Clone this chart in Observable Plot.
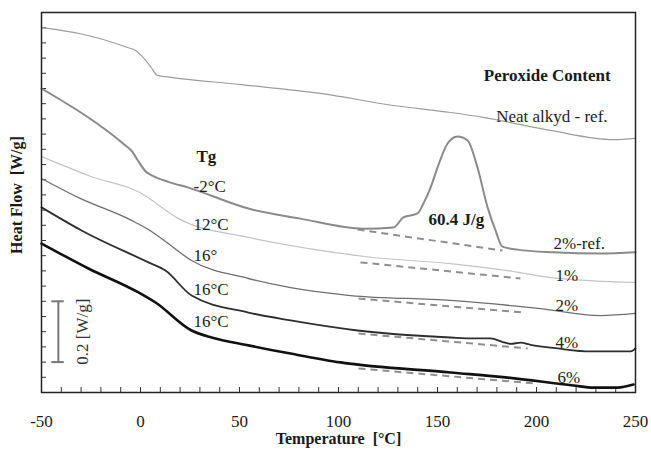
<!DOCTYPE html>
<html>
<head>
<meta charset="utf-8">
<script src="https://cdn.jsdelivr.net/npm/d3@7"></script>
<script src="https://cdn.jsdelivr.net/npm/@observablehq/plot@0.6"></script>
<style>
  html, body { margin: 0; padding: 0; background: #fff; }
  #chart svg { display: block; }
  #chart svg text { font-family: "Liberation Serif", "Times New Roman", serif; }
</style>
</head>
<body>
<div id="chart"></div>
<script>
// ---- data (Temperature °C, Heat Flow W/g, arbitrary offset) ----
const neatRef = [[-50,1.20],[-30.3,1.18],[-6.6,1.135],[-2.5,1.125],[1.0,1.105],[5.1,1.072],[8.6,1.043],[12.6,1.039],[50.5,1.013],[90.9,0.984],[127.8,0.944],[156.6,0.921],[173.2,0.905],[207.1,0.862],[238.9,0.832],[250,0.836]];
const ref2 = [[-50,1.00],[-7.6,0.8125],[-4.5,0.795],[-1.5,0.765],[2.5,0.728],[7,0.710],[14,0.693],[24.2,0.674],[54.5,0.605],[80.8,0.572],[112.6,0.539],[127.8,0.543],[132.8,0.576],[139.9,0.589],[142.9,0.622],[146.5,0.674],[150.0,0.740],[155.1,0.819],[160.1,0.842],[165.2,0.829],[170.2,0.740],[175.3,0.609],[179.3,0.533],[182.8,0.480],[190.4,0.470],[208.6,0.461],[232.3,0.457],[250,0.461]];
const p1 = [[-50,0.776],[-26.3,0.714],[4.0,0.641],[10.6,0.609],[19.2,0.572],[54.5,0.510],[84.3,0.474],[117.7,0.444],[156.6,0.424],[185.4,0.401],[207.1,0.378],[250,0.362]];
const p2 = [[-50,0.704],[-31.3,0.641],[-4.5,0.566],[4.0,0.536],[12.6,0.497],[25.8,0.434],[54.5,0.375],[75.8,0.345],[106.1,0.319],[156.6,0.303],[202.0,0.276],[232.3,0.253],[250,0.260]];
const p4 = [[-50,0.609],[-29.8,0.533],[4.0,0.428],[12.6,0.401],[25.8,0.319],[54.5,0.263],[75.8,0.237],[109.6,0.204],[156.6,0.181],[168.2,0.178],[176.8,0.178],[183,0.166],[187,0.160],[192,0.164],[197.0,0.157],[210.6,0.145],[227.3,0.135],[247.5,0.135],[250,0.145]];
const p6 = [[-50,0.490],[-26.3,0.408],[-1.0,0.329],[7.6,0.296],[25.8,0.204],[35.9,0.181],[54.5,0.155],[75.8,0.128],[101.0,0.099],[156.6,0.066],[185.4,0.049],[218.7,0.023],[228.8,0.016],[240.9,0.016],[249,0.026]];

// dashed baselines under each curve
const baselines = [
  {x1:109.6, y1:0.536, x2:182.8, y2:0.467},
  {x1:111.1, y1:0.428, x2:191.9, y2:0.375},
  {x1:110.1, y1:0.309, x2:193.4, y2:0.263},
  {x1:110.1, y1:0.194, x2:195.5, y2:0.145},
  {x1:110.1, y1:0.079, x2:198.5, y2:0.030}
];

// labels
const contentLabels = [
  {t:"2%-ref.", x:208.6, y:0.490},
  {t:"1%", x:209.6, y:0.385},
  {t:"2%", x:209.6, y:0.286},
  {t:"4%", x:209.6, y:0.164},
  {t:"6%", x:210.6, y:0.049}
];
const tgLabels = [
  {t:"-2°C", x:26.8, y:0.678},
  {t:"12°C", x:26.8, y:0.553},
  {t:"16°", x:26.8, y:0.451},
  {t:"16°C", x:26.8, y:0.339},
  {t:"16°C", x:26.8, y:0.234}
];
const titleLabel = {t:"Peroxide Content", x:237.4, y:1.043};
const tgTitle = {t:"Tg", x:33.3, y:0.776};
const enthalpyLabel = {t:"60.4 J/g", x:145.5, y:0.569};
const neatLabel = {t:"Neat alkyd - ref.", x:235.9, y:0.908};

const xTicks = [-50, 0, 50, 100, 150, 200, 250];
const xMinorTicks = d3.range(-50, 251, 10);
const yTicks = d3.range(0, 1.21, 0.05);
const scaleBar = {x: -41.5, y1: 0.1, y2: 0.3, capX1: -44.8, capX2: -38.5, labelX: -29.3, labelY: 0.2, text: "0.2 [W/g]"};

const serif = "Liberation Serif, Times New Roman, serif";
const X = d => d[0], Y = d => d[1];
const series = (data, stroke, w) => Plot.line(data, {x: X, y: Y, stroke, strokeWidth: w, curve: "monotone-x"});
const txt = {fontFamily: serif, fontSize: 17, fill: "#222"};

const chart = Plot.plot({
  width: 651,
  height: 453,
  marginLeft: 41,
  marginRight: 16,
  marginTop: 12,
  marginBottom: 61,
  style: {fontFamily: serif, fontSize: "16px", color: "#1a1a1a", background: "#fff"},
  x: {domain: [-50, 250]},
  y: {domain: [0, 1.25], axis: null},
  marks: [
    Plot.tickX(xMinorTicks, {insetTop: 375, stroke: "#333", strokeWidth: 1}),
    Plot.tickY(yTicks, {insetRight: 589, stroke: "#333", strokeWidth: 1}),
    Plot.axisX(xTicks, {tickSize: 0, tickPadding: 22, fontSize: 17, fontFamily: serif, tickFormat: d => String(d), label: null}),
    Plot.link(baselines, {x1: "x1", y1: "y1", x2: "x2", y2: "y2", stroke: "#8f8f8f", strokeWidth: 2, strokeDasharray: "7,5"}),
    series(neatRef, "#9c9c9c", 1.2),
    series(ref2, "#8a8a8a", 2),
    series(p1, "#c4c4c4", 1.2),
    series(p2, "#6e6e6e", 1.3),
    series(p4, "#2e2e2e", 1.8),
    series(p6, "#111111", 2.6),
    Plot.ruleX([scaleBar], {x: "x", y1: "y1", y2: "y2", stroke: "#777", strokeWidth: 2}),
    Plot.ruleY([scaleBar.y1, scaleBar.y2], {x1: scaleBar.capX1, x2: scaleBar.capX2, stroke: "#777", strokeWidth: 2}),
    Plot.text([scaleBar], {x: "labelX", y: "labelY", text: "text", rotate: -90, ...txt, fill: "#333"}),
    Plot.text(contentLabels, {x: "x", y: "y", text: "t", textAnchor: "start", ...txt}),
    Plot.text(tgLabels, {x: "x", y: "y", text: "t", textAnchor: "start", ...txt}),
    Plot.text([titleLabel], {x: "x", y: "y", text: "t", textAnchor: "end", ...txt, fontWeight: "bold", fill: "#1a1a1a"}),
    Plot.text([tgTitle], {x: "x", y: "y", text: "t", textAnchor: "middle", ...txt, fontWeight: "bold", fill: "#1a1a1a"}),
    Plot.text([enthalpyLabel], {x: "x", y: "y", text: "t", textAnchor: "start", ...txt, fontWeight: "bold", fill: "#1a1a1a"}),
    Plot.text([neatLabel], {x: "x", y: "y", text: "t", textAnchor: "end", ...txt}),
    Plot.text(["Temperature\u00a0\u00a0[°C]"], {frameAnchor: "bottom", dy: 51, fontFamily: serif, fontSize: 16, fontWeight: "bold", fill: "#1a1a1a"}),
    Plot.text(["Heat Flow\u00a0\u00a0[W/g]"], {frameAnchor: "left", textAnchor: "middle", lineAnchor: "middle", rotate: -90, dx: -25, dy: -7.5, fontFamily: serif, fontSize: 16, fontWeight: "bold", fill: "#1a1a1a"}),
    Plot.frame({stroke: "#222", strokeWidth: 1.5})
  ]
});
document.getElementById("chart").appendChild(chart);
</script>
</body>
</html>
